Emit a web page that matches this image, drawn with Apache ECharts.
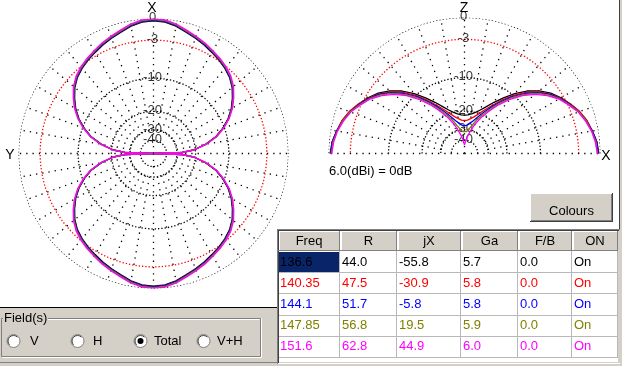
<!DOCTYPE html>
<html><head><meta charset="utf-8">
<script src="https://cdn.jsdelivr.net/npm/echarts/dist/echarts.min.js"></script>
<style>html,body{margin:0;padding:0;background:#ffffff}#c{width:622px;height:366px}</style>
</head><body><div id="c"></div>
<script>
// ---- data ----
const refDbi = 6.0; // 6.0(dBi) = 0dB
const ringDb = [0, -3, -10, -20, -30, -40];
const ringLabels = ['0', '-3', '-10', '-20', '-30', '-40'];
const seriesColors = ['#000000', '#ff0000', '#0000ff', '#808000', '#ff00ff'];

const freqs = [136.6, 140.35, 144.1, 147.85, 151.6];
const rVals = [44.0, 47.5, 51.7, 56.8, 62.8];
const jxVals = [-55.8, -30.9, -5.8, 19.5, 44.9];
const gaVals = [5.7, 5.8, 5.8, 5.9, 6.0];
const fbVals = [0.0, 0.0, 0.0, 0.0, 0.0];
const onVals = ['On', 'On', 'On', 'On', 'On'];
const headers = ['Freq', 'R', 'jX', 'Ga', 'F/B', 'ON'];
const fieldOptions = ['V', 'H', 'Total', 'V+H'];

// horizontal (azimuth) pattern shape, dB relative to each frequency's max gain
const azAngles = [0,5,10,15,20,25,30,35,40,45,50,55,60,65,70,75,80,85,88,90,
  92,95,100,105,110,115,120,125,130,135,140,145,150,155,160,165,170,175,180,
  185,190,195,200,205,210,215,220,225,230,235,240,245,250,255,260,265,268,270,
  272,275,280,285,290,295,300,305,310,315,320,325,330,335,340,345,350,355,360];
const azShapeDb = [0,-0.1,-0.45,-0.95,-1.35,-1.75,-2.2,-2.6,-3.05,-3.6,-4.4,-5.5,-6.7,-8.2,-10.1,-12.4,-15.8,-20.5,-26.5,-99,
  -26.5,-20.5,-15.8,-12.4,-10.1,-8.2,-6.7,-5.5,-4.4,-3.6,-3.05,-2.6,-2.2,-1.75,-1.35,-0.95,-0.45,-0.1,0,
  -0.1,-0.45,-0.95,-1.35,-1.75,-2.2,-2.6,-3.05,-3.6,-4.4,-5.5,-6.7,-8.2,-10.1,-12.4,-15.8,-20.5,-26.5,-99,
  -26.5,-20.5,-15.8,-12.4,-10.1,-8.2,-6.7,-5.5,-4.4,-3.6,-3.05,-2.6,-2.2,-1.75,-1.35,-0.95,-0.45,-0.1,0];

// vertical (elevation) pattern, dB relative to 6.0 dBi
const elAngles = [0,5,10,15,20,25,30,35,40,45,50,55,60,65,70,75,80,85,90,
  95,100,105,110,115,120,125,130,135,140,145,150,155,160,165,170,175,180];
const el136 = [-0.2,-0.4,-0.8,-1.2,-1.8,-2.6,-3.4,-4.4,-5.7,-7.4,-9.5,-11.9,-14.3,-16.6,-18.5,-19.9,-20.9,-21.5,-21.7,
  -21.5,-20.9,-19.9,-18.5,-16.6,-14.3,-11.9,-9.5,-7.4,-5.7,-4.4,-3.4,-2.6,-1.8,-1.2,-0.8,-0.4,-0.2];
const el140 = [-0.3,-0.4,-0.8,-1.2,-1.8,-2.6,-3.5,-4.6,-6.0,-7.8,-10.0,-12.6,-15.3,-17.8,-20.0,-21.8,-23.1,-24.0,-24.3,
  -24.0,-23.1,-21.8,-20.0,-17.8,-15.3,-12.6,-10.0,-7.8,-6.0,-4.6,-3.5,-2.6,-1.8,-1.2,-0.8,-0.4,-0.3];
const el144 = [-0.3,-0.4,-0.8,-1.3,-1.9,-2.7,-3.6,-4.7,-6.2,-8.1,-10.4,-13.1,-16.0,-18.8,-21.5,-23.8,-25.6,-26.9,-27.4,
  -26.9,-25.6,-23.8,-21.5,-18.8,-16.0,-13.1,-10.4,-8.1,-6.2,-4.7,-3.6,-2.7,-1.9,-1.3,-0.8,-0.4,-0.3];
const el147 = [-0.4,-0.5,-0.9,-1.3,-1.9,-2.8,-3.7,-4.9,-6.4,-8.4,-10.8,-13.6,-16.8,-19.9,-23.0,-26.5,-29.2,-31.3,-32.2,
  -31.3,-29.2,-26.5,-23.0,-19.9,-16.8,-13.6,-10.8,-8.4,-6.4,-4.9,-3.7,-2.8,-1.9,-1.3,-0.9,-0.5,-0.4];
const el151 = [-0.4,-0.6,-0.9,-1.4,-2.0,-2.9,-3.8,-5.1,-6.7,-8.7,-11.2,-14.2,-17.6,-21.0,-25.0,-30.0,-35.0,-41.0,-48.0,
  -41.0,-35.0,-30.0,-25.0,-21.0,-17.6,-14.2,-11.2,-8.7,-6.7,-5.1,-3.8,-2.9,-2.0,-1.4,-0.9,-0.6,-0.4];
const elData = [el136, el140, el144, el147, el151];

// ---- helpers ----
// ARRL log scale: each 2 dB shrinks the radius by 0.89
function rad(db) { return Math.pow(0.89, -db / 2); }
const FONT = '"Liberation Sans", Arial, sans-serif';

const series = [];
const polars = [
  { center: [153.5, 153.5], radius: 135, full: true, top: 0 },
  { center: [464.5, 153.5], radius: 136, full: false, top: 90 }
];

polars.forEach((p, pi) => {
  const maxA = p.full ? 360 : 180;
  // rings
  ringDb.forEach(db => {
    const d = [];
    for (let a = 0; a <= maxA; a += 1) d.push([rad(db), a]);
    series.push({
      type: 'line', coordinateSystem: 'polar', polarIndex: pi, data: d,
      symbol: 'none', silent: true, z: 1, animation: false,
      lineStyle: { color: db === -3 ? '#ff0000' : '#000000', width: 1.3, type: [1.3, 2] }
    });
  });
  // spokes
  for (let a = 0; a < (p.full ? 360 : 181); a += 10) {
    const start = (a % 90 === 0) ? 0 : rad(-30);
    series.push({
      type: 'line', coordinateSystem: 'polar', polarIndex: pi,
      data: [[start, a], [1, a]], symbol: 'none', silent: true, z: 1, animation: false,
      lineStyle: { color: '#000000', width: 1.3, type: [1.3, 5] }
    });
  }
  // ring labels
  series.push({
    type: 'scatter', coordinateSystem: 'polar', polarIndex: pi, z: 3, silent: true,
    symbolSize: 1, itemStyle: { color: 'rgba(0,0,0,0)' }, animation: false,
    data: ringDb.map((db, i) => ({ name: ringLabels[i], value: [rad(db), p.top] })),
    label: { show: true, position: 'inside', formatter: '{b}', color: '#000',
      fontSize: 13, fontFamily: FONT, offset: [-1, -1] }
  });
});

// horizontal pattern (left)
seriesColors.forEach((c, i) => {
  series.push({
    type: 'line', coordinateSystem: 'polar', polarIndex: 0, symbol: 'none',
    animation: false, z: 5, silent: true,
    lineStyle: { color: c, width: 1.3 },
    data: azAngles.map((a, k) => [rad(azShapeDb[k] + gaVals[i] - refDbi), a])
  });
});
// vertical pattern (right)
seriesColors.forEach((c, i) => {
  series.push({
    type: 'line', coordinateSystem: 'polar', polarIndex: 1, symbol: 'none',
    animation: false, z: 5, silent: true,
    lineStyle: { color: c, width: 1.3 },
    data: elAngles.map((a, k) => [rad(elData[i][k]), a])
  });
});

// ---- UI chrome (graphic) ----
const G = [];
function rect(x, y, w, h, fill, stroke) {
  G.push({ type: 'rect', shape: { x, y, width: w, height: h },
    style: { fill: fill || 'none', stroke: stroke || null, lineWidth: 1 }, silent: true });
}
function line(x1, y1, x2, y2, color) {
  G.push({ type: 'line', shape: { x1, y1, x2, y2 }, style: { stroke: color, lineWidth: 1 }, silent: true });
}
function text(t, x, y, opts) {
  opts = opts || {};
  G.push({ type: 'text', x, y, silent: true,
    style: { text: t, fill: opts.fill || '#000', font: (opts.size || 13) + 'px ' + FONT,
      textAlign: opts.align || 'left', textVerticalAlign: 'middle' } });
}

// axis letters & reference note
text('X', 152, 8, { align: 'center', size: 14 });
text('Y', 10, 155, { align: 'center', size: 14 });
text('Z', 464, 8, { align: 'center', size: 14 });
text('X', 606, 156, { align: 'center', size: 14 });
text(refDbi.toFixed(1) + '(dBi) = 0dB', 329, 171);

// gray panels
rect(0, 308, 277, 58, '#d4d0c8');
line(0, 307.5, 277, 307.5, '#000000');
rect(620, 0, 2, 366, '#d4d0c8');
line(619.5, 0, 619.5, 229, '#404040');

// Colours button
rect(530, 193, 83, 29, '#d4d0c8');
line(530.5, 193.5, 612.5, 193.5, '#ffffff');
line(530.5, 193.5, 530.5, 221.5, '#ffffff');
line(530, 221.5, 613, 221.5, '#404040');
line(612.5, 193, 612.5, 222, '#404040');
line(531, 220.5, 612, 220.5, '#808080');
line(611.5, 194, 611.5, 221, '#808080');
text('Colours', 571.5, 211, { align: 'center' });

// Field(s) group
line(1.5, 318.5, 260.5, 318.5, '#808080');
line(1.5, 318.5, 1.5, 356.5, '#808080');
line(1.5, 356.5, 260.5, 356.5, '#808080');
line(260.5, 318.5, 260.5, 356.5, '#808080');
line(2.5, 319.5, 259.5, 319.5, '#ffffff');
line(2.5, 357.5, 261.5, 357.5, '#ffffff');
line(261.5, 318.5, 261.5, 357.5, '#ffffff');
G.push({ type: 'rect', shape: { x: 3, y: 312, width: 45, height: 13 }, style: { fill: '#d4d0c8' }, silent: true });
text('Field(s)', 4, 318.5);
line(0, 362.5, 277, 362.5, '#808080');
const radioX = [13.5, 77.5, 140.5, 203.5];
const radioLabelX = [30, 93, 154, 217];
fieldOptions.forEach((f, i) => {
  G.push({ type: 'circle', shape: { cx: radioX[i], cy: 341, r: 6.5 },
    style: { fill: '#ffffff', stroke: '#808080', lineWidth: 1 }, silent: true });
  G.push({ type: 'arc', shape: { cx: radioX[i], cy: 341, r: 5.5, startAngle: Math.PI * 0.75, endAngle: Math.PI * 1.75 },
    style: { stroke: '#404040', fill: null, lineWidth: 1 }, silent: true });
  if (f === 'Total') {
    G.push({ type: 'circle', shape: { cx: radioX[i], cy: 341, r: 3 }, style: { fill: '#000000' }, silent: true });
  }
  text(f, radioLabelX[i], 341);
});

// results table
const colX = [278, 340, 397, 461, 518, 572, 618];
rect(277, 229, 345, 137, '#d4d0c8');
rect(278, 231, 340, 131, '#ffffff');
line(277, 229.5, 620, 229.5, '#808080');
line(277.5, 229, 277.5, 364, '#808080');
line(278, 230.5, 619, 230.5, '#404040');
line(278.5, 230, 278.5, 363, '#404040');
line(278, 363.5, 620, 363.5, '#ffffff');
headers.forEach((h, c) => {
  const x0 = colX[c], x1 = colX[c + 1];
  rect(x0 + 1, 231, x1 - x0 - 1, 20, '#d4d0c8');
  line(x0 + 1, 231.5, x1 - 1, 231.5, '#ffffff');
  line(x0 + 1.5, 231, x0 + 1.5, 251, '#ffffff');
  line(x0, 250.5, x1, 250.5, '#808080');
  line(x1 - 0.5, 231, x1 - 0.5, 251, '#808080');
  text(h, (x0 + x1) / 2, 241.5, { align: 'center' });
});
const rowH = 21.2, row0 = 251;
for (let r = 0; r < 5; r++) {
  const yb = row0 + (r + 1) * rowH;
  line(279, Math.round(yb) + 0.5, 618, Math.round(yb) + 0.5, '#b8b8b8');
}
for (let c = 1; c < colX.length; c++) {
  line(colX[c] - 0.5, 251, colX[c] - 0.5, Math.round(row0 + 5 * rowH) + 1, '#b8b8b8');
}
rect(279, 252, 60, 20, '#0a246a');
const fmt = v => v.toFixed(1);
freqs.forEach((f, r) => {
  const yc = row0 + r * rowH + rowH / 2 + 0.5;
  const col = seriesColors[r];
  const cells = [String(f), fmt(rVals[r]), fmt(jxVals[r]), fmt(gaVals[r]), fmt(fbVals[r]), onVals[r]];
  cells.forEach((t, c) => text(t, colX[c] + 2, yc, { fill: col }));
});

const chart = echarts.init(document.getElementById('c'), null, { renderer: 'canvas' });
chart.setOption({
  backgroundColor: '#ffffff',
  animation: false,
  polar: polars.map(p => ({ center: p.center, radius: p.radius })),
  angleAxis: [
    { polarIndex: 0, type: 'value', min: 0, max: 360, startAngle: 90, clockwise: true, show: false },
    { polarIndex: 1, type: 'value', min: 0, max: 360, startAngle: 0, clockwise: false, show: false }
  ],
  radiusAxis: [
    { polarIndex: 0, type: 'value', min: 0, max: 1, show: false },
    { polarIndex: 1, type: 'value', min: 0, max: 1, show: false }
  ],
  series: series,
  graphic: { elements: G }
});
</script></body></html>
